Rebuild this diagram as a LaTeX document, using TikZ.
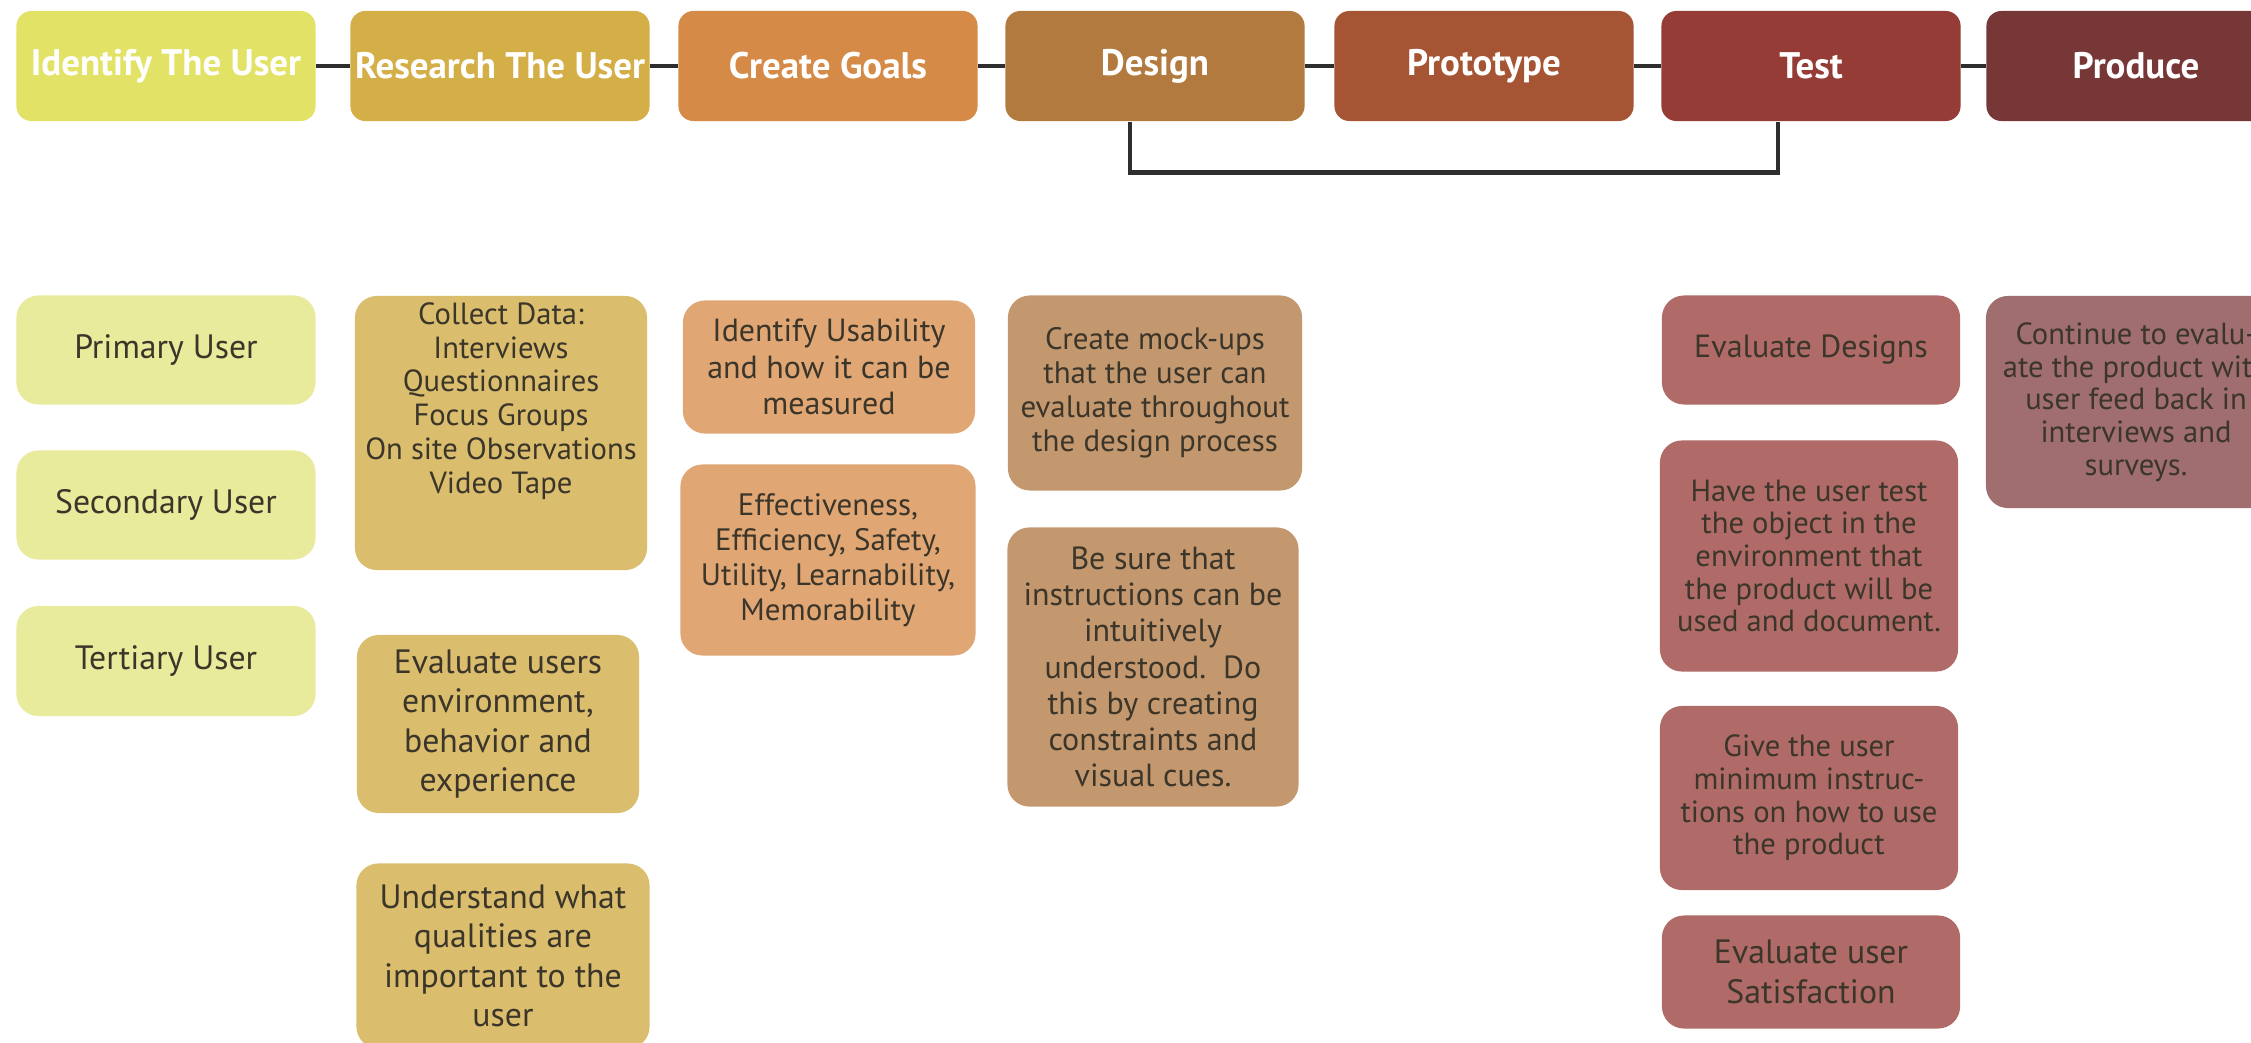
\documentclass[tikz,border=0pt]{standalone}
\usepackage{fontspec}
\setmainfont{PT Sans}
\usepackage{xcolor}
\usepackage{tikz}
\usetikzlibrary{positioning}

\definecolor{idTop}{HTML}{E2E366}
\definecolor{idSub}{HTML}{E8EB9B}
\definecolor{resTop}{HTML}{D4AE46}
\definecolor{resSub}{HTML}{DABE6E}
\definecolor{goalTop}{HTML}{D58B47}
\definecolor{goalSub}{HTML}{E0A775}
\definecolor{desTop}{HTML}{B27A3E}
\definecolor{desSub}{HTML}{C4986E}
\definecolor{protoTop}{HTML}{A55533}
\definecolor{testTop}{HTML}{943C35}
\definecolor{testSub}{HTML}{B06B68}
\definecolor{prodTop}{HTML}{783737}
\definecolor{prodSub}{HTML}{A06E6E}
\definecolor{linkGray}{HTML}{2E2E2E}
\definecolor{taskText}{HTML}{3B352A}

\tikzstyle{stage} = [rounded corners=0.15cm, minimum width=2.99cm, minimum height=1.1cm, inner sep=0pt, text=white, font=\fontsize{10.5}{12}\selectfont\bfseries]
\tikzstyle{task} = [rounded corners=0.22cm, inner sep=0pt, align=center, text=taskText]
\tikzstyle{textS} = [font=\fontsize{8.7}{9.3}\selectfont]
\tikzstyle{textM} = [font=\fontsize{9.1}{10.3}\selectfont]
\tikzstyle{textL} = [font=\fontsize{9.6}{11.2}\selectfont]
\tikzstyle{link} = [line width=1.3pt, draw=linkGray]

\begin{document}
\begin{tikzpicture}[x=0.01cm,y=-0.01cm]
	\begin{scope}
	
	%Background
	\clip (0,0) rectangle (2251,1042);
	\fill [white] (0,0) rectangle (2251,1042);
	
	% Stages:
	% One box per step of the process, left to right
	\node [stage, fill=idTop] (identify) at (166,66) {Identify The User};
	\node [stage, fill=resTop] (research) at (500,66) {Research The User};
	\node [stage, fill=goalTop] (goals) at (828,66) {Create Goals};
	\node [stage, fill=desTop] (design) at (1155,66) {Design};
	\node [stage, fill=protoTop] (prototype) at (1484,66) {Prototype};
	\node [stage, fill=testTop] (test) at (1811,66) {Test};
	\node [stage, fill=prodTop] (produce) at (2136,66) {Produce};
	
	% Links between the stages:
	\draw [link] (identify) -- (research);
	\draw [link] (research) -- (goals);
	\draw [link] (goals) -- (design);
	\draw [link] (design) -- (prototype);
	\draw [link] (prototype) -- (test);
	\draw [link] (test) -- (produce);
	
	% Loop from Test back to Design:
	\draw [link] ([xshift=-0.25cm]design.south) -- ++(0,51) -| ([xshift=-0.33cm]test.south);
	
	% Identify The User:
	\node [task, textL, fill=idSub, minimum width=2.99cm, minimum height=1.09cm] (primary) at (166,350) {Primary User};
	\node [task, textL, fill=idSub, minimum width=2.99cm, minimum height=1.09cm] (secondary) at (166,505) {Secondary User};
	\node [task, textL, fill=idSub, minimum width=2.99cm, minimum height=1.1cm] (tertiary) at (166,661) {Tertiary User};
	
	% Research The User:
	\node [task, textS, fill=resSub, minimum width=2.92cm, minimum height=2.74cm, font=\fontsize{8.7}{9.6}\selectfont] (collect) at (501,433) {Collect Data:\\Interviews\\Questionnaires\\Focus Groups\\On site Observations\\Video Tape\\[1.2em]};
	\node [task, textL, fill=resSub, minimum width=2.82cm, minimum height=1.78cm] (environment) at (498,724) {Evaluate users\\environment,\\behavior and\\experience};
	\node [task, textL, fill=resSub, minimum width=2.93cm, minimum height=1.85cm] (qualities) at (503,956) {Understand what\\qualities are\\important to the\\user};
	
	% Create Goals:
	\node [task, textM, fill=goalSub, minimum width=2.92cm, minimum height=1.33cm] (usability) at (829,367) {Identify Usability\\and how it can be\\measured};
	\node [task, textS, fill=goalSub, minimum width=2.95cm, minimum height=1.91cm, font=\fontsize{8.8}{9.9}\selectfont] (measures) at (828,560) {Effectiveness,\\Efficiency, Safety,\\Utility, Learnability,\\Memorability};
	
	% Design:
	\node [task, textS, fill=desSub, minimum width=2.94cm, minimum height=1.95cm, font=\fontsize{8.8}{9.7}\selectfont] (mockups) at (1155,393) {Create mock-ups\\that the user can\\evaluate throughout\\the design process};
	\node [task, textM, fill=desSub, minimum width=2.91cm, minimum height=2.79cm] (instructions) at (1153,667) {Be sure that\\instructions can be\\intuitively\\understood.\ \ Do\\this by creating\\constraints and\\visual cues.};
	
	% Test:
	\node [task, textM, fill=testSub, minimum width=2.98cm, minimum height=1.09cm] (designs) at (1811,350) {Evaluate Designs};
	\node [task, textS, fill=testSub, minimum width=2.98cm, minimum height=2.31cm] (environment test) at (1809,556) {Have the user test\\the object in the\\environment that\\the product will be\\used and document.};
	\node [task, textS, fill=testSub, minimum width=2.98cm, minimum height=1.84cm] (minimum) at (1809,798) {Give the user\\minimum instruc-\\tions on how to use\\the product};
	\node [task, textL, fill=testSub, minimum width=2.98cm, minimum height=1.13cm] (satisfaction) at (1811,972) {Evaluate user\\Satisfaction};
	
	% Produce:
	\node [task, textS, fill=prodSub, minimum width=3.0cm, minimum height=2.12cm] (feedback) at (2136,402) {Continue to evalu-\\ate the product with\\user feed back in\\interviews and\\surveys.};
	
	\end{scope}
\end{tikzpicture}
\end{document}
